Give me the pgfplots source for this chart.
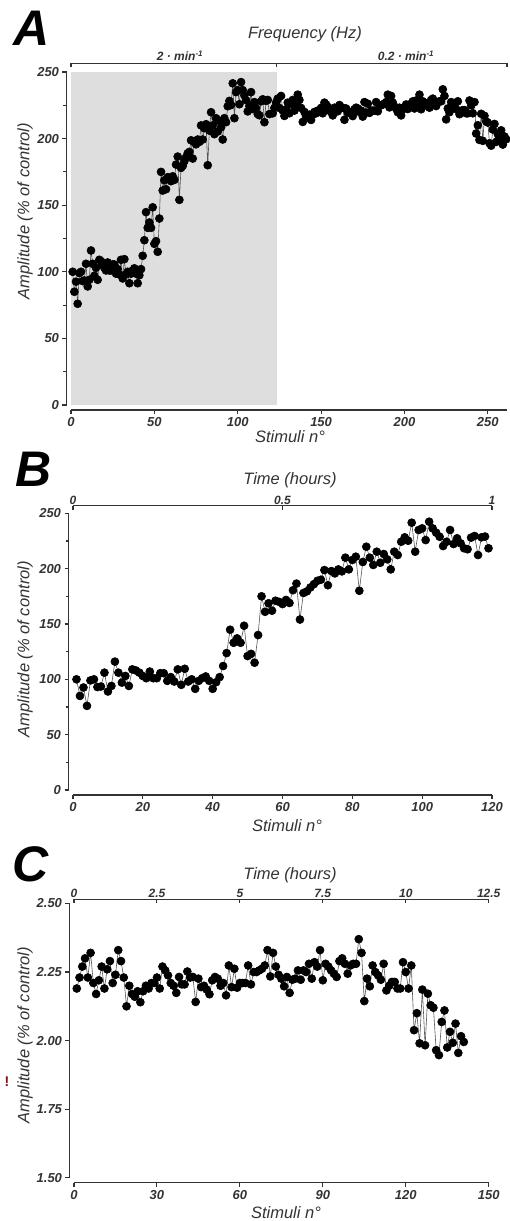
\documentclass[border=0pt]{standalone}
\usepackage{fontspec}
\setmainfont{Liberation Sans}
\usepackage{pgfplots}
\pgfplotsset{compat=1.18}
\usepackage{pgfplotstable}

\definecolor{axc}{HTML}{333333}
\definecolor{lnc}{HTML}{555555}
\definecolor{shade}{HTML}{DEDEDE}
\definecolor{bang}{HTML}{7A1010}

\pgfplotstableread{
n a
1 100
2 85
3 92.6
4 76
5 99
6 100
7 93
8 93.5
9 106
10 89
11 94
12 116
13 106
14 97
15 103
16 94
17 109
18 108
19 106
20 103
21 101
22 107
23 101
24 101
25 105.5
26 105.5
27 98.6
28 102
29 98
30 109
31 95
32 109.5
33 98
34 100
35 91.4
36 98.6
37 101
38 102.6
39 98.6
40 91.4
41 97.4
42 102
43 112
44 123.7
45 144.8
46 133
47 137
48 133
49 148.4
50 121
51 123
52 115
53 140
54 175
55 161
56 168.7
57 162
58 171
59 170
60 168
61 171.7
62 169
63 180.5
64 186.5
65 154
66 178
67 179.5
68 183
69 186
70 189
71 190
72 198.7
73 185
74 197.8
75 195.7
76 199.3
77 197.5
78 209.9
79 199.3
80 207.8
81 210.8
82 180
83 206
84 219.8
85 209.9
86 203.3
87 215.3
88 205.3
89 213.2
90 208.4
91 199.3
92 215.3
93 212.3
94 224.3
95 228.3
96 225.2
97 241.5
98 215.3
99 234.9
100 236.4
101 225.8
102 242.4
103 236.4
104 232.5
105 228.8
106 220.4
107 224.3
108 234.9
109 222.2
110 227.4
111 222.9
112 218.4
113 217.5
114 228
115 229.5
116 212.3
117 228.3
118 229
119 218.4
}\tabB

\pgfplotstableread{
n a
1 2.19
2 2.23
3 2.27
4 2.30
5 2.23
6 2.32
7 2.21
8 2.17
9 2.22
10 2.27
11 2.19
12 2.26
13 2.29
14 2.21
15 2.24
16 2.33
17 2.29
18 2.23
19 2.125
20 2.20
21 2.17
22 2.16
23 2.18
24 2.14
25 2.18
26 2.20
27 2.19
28 2.21
29 2.21
30 2.23
31 2.19
32 2.27
33 2.256
34 2.238
35 2.21
36 2.20
37 2.174
38 2.232
39 2.205
40 2.205
41 2.252
42 2.23
43 2.232
44 2.141
45 2.226
46 2.195
47 2.20
48 2.186
49 2.169
50 2.22
51 2.232
52 2.226
53 2.20
54 2.21
55 2.165
56 2.274
57 2.195
58 2.262
59 2.193
60 2.21
61 2.21
62 2.21
63 2.274
64 2.205
65 2.25
66 2.25
67 2.256
68 2.262
69 2.274
70 2.33
71 2.234
72 2.32
73 2.27
74 2.24
75 2.226
76 2.198
77 2.232
78 2.174
79 2.222
80 2.226
81 2.256
82 2.222
83 2.256
84 2.25
85 2.28
86 2.226
87 2.286
88 2.27
89 2.33
90 2.22
91 2.28
92 2.27
93 2.256
94 2.244
95 2.232
96 2.29
97 2.30
98 2.28
99 2.244
100 2.274
101 2.28
102 2.28
103 2.37
104 2.32
105 2.144
106 2.226
107 2.198
108 2.274
109 2.25
110 2.238
111 2.222
112 2.28
113 2.183
114 2.20
115 2.214
116 2.214
117 2.19
118 2.19
119 2.286
120 2.25
121 2.19
122 2.274
123 2.038
124 2.10
125 1.99
126 2.186
127 1.983
128 2.171
129 2.129
130 2.12
131 1.965
132 1.947
133 2.068
134 2.11
135 1.975
136 2.032
137 1.992
138 2.062
139 1.955
140 2.016
141 1.995
}\tabC

\pgfplotsset{
  prism/.style={
    scale only axis, anchor=south west, clip=false,
    axis x line*=bottom, axis y line*=left,
    axis line style={axc, line width=1.3pt, -},
    tick style={axc, line width=1.1pt},
    major tick length=4pt, minor tick length=3pt,
    tick align=outside,
    ticklabel style={font=\fontsize{13}{13}\selectfont\bfseries\itshape, text=axc},
    /pgf/number format/assume math mode=true,
    axis x line shift=5pt, axis y line shift=4.5pt,
  },
  topax/.style={
    scale only axis, anchor=south west, clip=false,
    axis x line*=top, axis y line=none,
    axis line style={axc, line width=1.3pt, -},
    tick style={axc, line width=1.1pt},
    major tick length=4pt, tick align=inside,
    ticklabel style={font=\fontsize{12}{12}\selectfont\bfseries\itshape, text=axc, inner sep=1pt},
    /pgf/number format/assume math mode=true,
  },
  dat/.style={lnc, line width=0.6pt, mark=*, mark size=4pt,
    mark options={black, fill=black, solid}},
}

\begin{document}
\begin{tikzpicture}[x=1pt,y=1pt]
\useasboundingbox (0,0) rectangle (509,1221);

% ---------- Panel A ----------
\begin{axis}[prism, at={(71pt,816pt)}, width=436pt, height=333pt,
  xmin=0, xmax=261.5, ymin=0, ymax=250,
  xtick={0,50,100,150,200,250}, ytick={0,50,100,150,200,250},
  minor ytick={25,75,125,175,225}]
\addplot[draw=none, fill=shade, forget plot] coordinates {(0,250) (123.4,250)} \closedcycle;
\addplot[dat] table[x=n,y=a]{\tabB};
\addplot[lnc, line width=0.6pt] coordinates {(119,218.4) (121,219)};
\addplot[dat] table[x expr=\thisrow{n}+120, y expr=\thisrow{a}*100]{\tabC};
\end{axis}
\begin{axis}[topax, at={(71pt,816pt)}, width=436pt, height=333pt,
  xmin=0, xmax=261.5, ymin=0, ymax=250, axis x line shift=8.5pt,
  xtick={0,123.4,261.5}, xticklabels={}]
\addplot[draw=none] coordinates {(0,0)};
\end{axis}

% ---------- Panel B ----------
\begin{axis}[prism, at={(73pt,431pt)}, width=419pt, height=276.7pt,
  xmin=0, xmax=120, ymin=0, ymax=250,
  xtick={0,20,40,60,80,100,120}, ytick={0,50,100,150,200,250},
  minor ytick={25,75,125,175,225}]
\addplot[dat] table[x=n,y=a]{\tabB};
\end{axis}
\begin{axis}[topax, at={(73pt,431pt)}, width=419pt, height=276.7pt,
  xmin=0, xmax=1, ymin=0, ymax=250, axis x line shift=7.6pt,
  xtick={0,0.5,1}, xticklabels={0,0.5,1}]
\addplot[draw=none] coordinates {(0,0)};
\end{axis}

% ---------- Panel C ----------
\begin{axis}[prism, at={(74pt,43.3pt)}, width=414.7pt, height=274.2pt,
  xmin=0, xmax=150, ymin=1.5, ymax=2.5,
  xtick={0,30,60,90,120,150}, ytick={1.5,1.75,2,2.25,2.5},
  yticklabel style={/pgf/number format/.cd, fixed, fixed zerofill, precision=2}]
\addplot[dat] table[x=n,y=a]{\tabC};
\end{axis}
\begin{axis}[topax, at={(74pt,43.3pt)}, width=414.7pt, height=274.2pt,
  xmin=0, xmax=12.5, ymin=1.5, ymax=2.5, axis x line shift=4.3pt,
  xtick={0,2.5,5,7.5,10,12.5}, xticklabels={0,2.5,5,7.5,10,12.5}]
\addplot[draw=none] coordinates {(0,2)};
\end{axis}

% ---------- Texts ----------
\tikzset{ptl/.style={font=\fontsize{50}{50}\selectfont\bfseries\itshape, anchor=base west, inner sep=0pt},
         ttl/.style={font=\fontsize{16.5}{16.5}\selectfont\itshape, text=axc},
         sub/.style={font=\fontsize{12}{12}\selectfont\bfseries\itshape, text=axc}}
\node[ptl] at (13,1175) {A};
\node[ptl] at (15,734) {B};
\node[ptl] at (12,339) {C};

\node[ttl] at (305,1187) {Frequency (Hz)};
\node[sub] at (180,1165) {2 · min\textsuperscript{-1}};
\node[sub] at (406,1165) {0.2 · min\textsuperscript{-1}};
\node[ttl] at (290,784) {Stimuli n°};
\node[ttl, rotate=90] at (25,1010) {Amplitude (\% of control)};

\node[ttl] at (290,741) {Time (hours)};
\node[ttl] at (287,395) {Stimuli n°};
\node[ttl, rotate=90] at (25,572) {Amplitude (\% of control)};

\node[ttl] at (290,346) {Time (hours)};
\node[ttl] at (286,8) {Stimuli n°};
\node[ttl, rotate=90] at (25,186) {Amplitude (\% of control)};

\node[font=\fontsize{14}{14}\selectfont\bfseries, text=bang] at (7,139) {!};
\end{tikzpicture}
\end{document}
